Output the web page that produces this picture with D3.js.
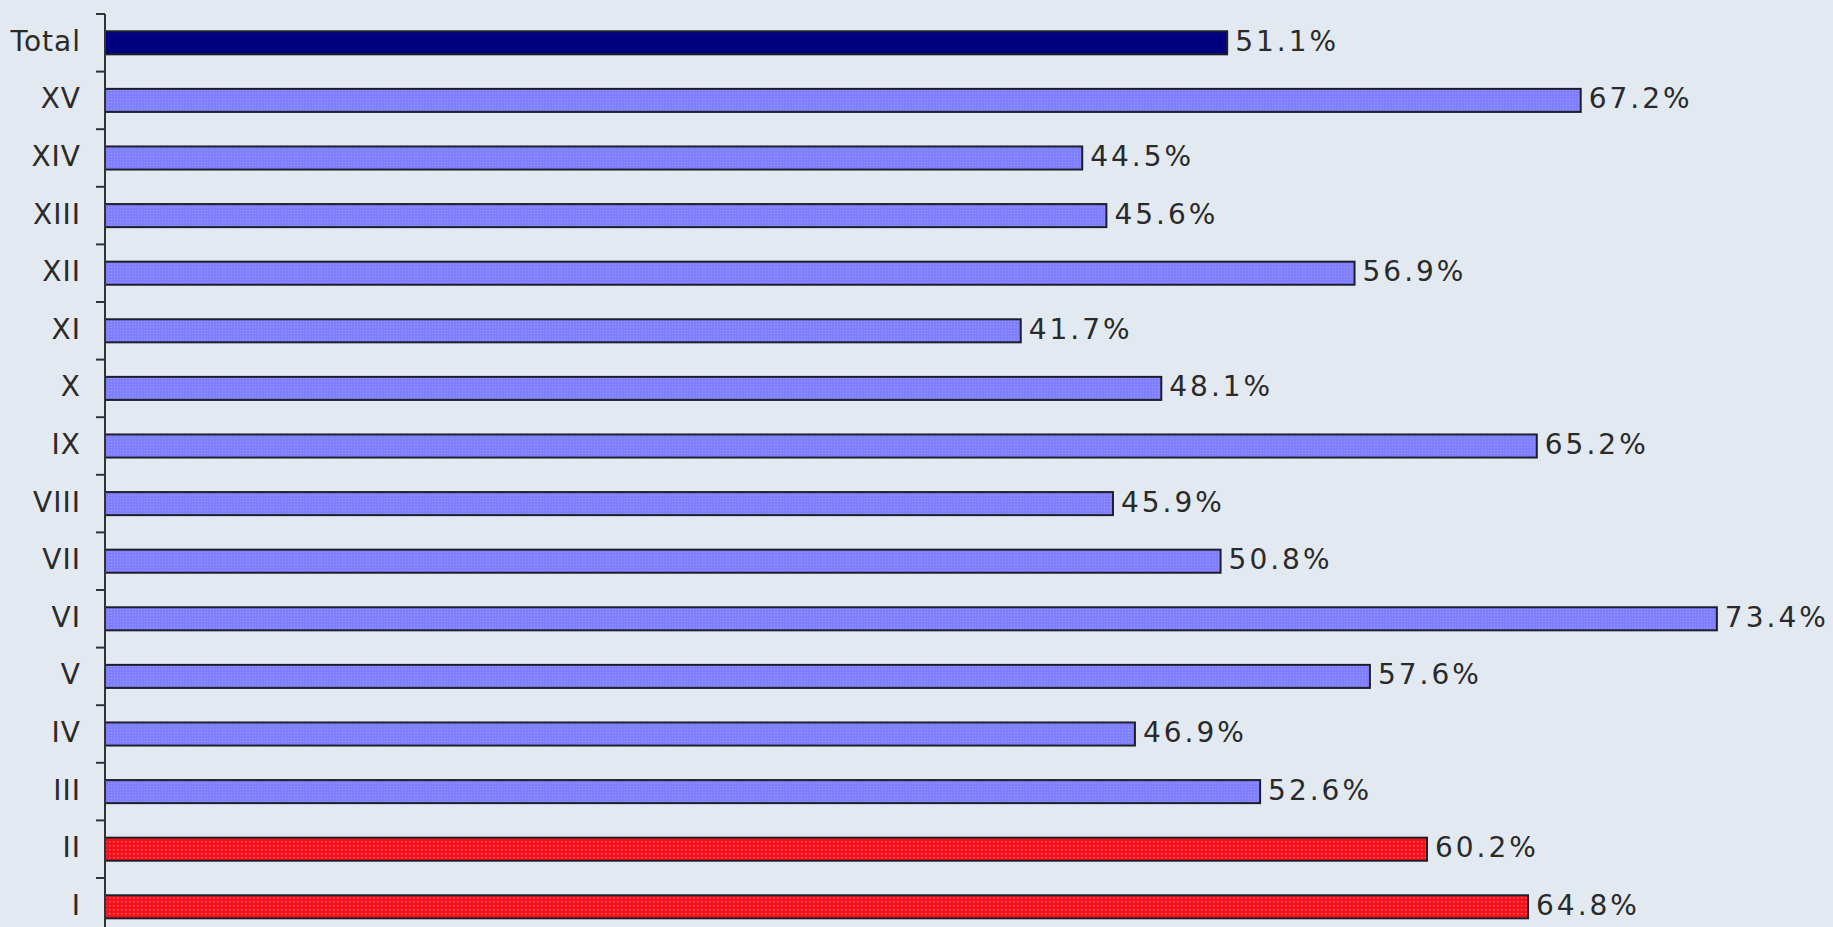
<!DOCTYPE html>
<html>
<head>
<meta charset="utf-8">
<script src="https://cdn.jsdelivr.net/npm/d3@7"></script>
<style>
  html, body { margin: 0; padding: 0; background: #e2e9f0; overflow: hidden; }
  svg { display: block; }
</style>
</head>
<body>
<svg id="chart"></svg>
<script>
// categories top to bottom
const categories = ["Total", "XV", "XIV", "XIII", "XII", "XI", "X", "IX", "VIII", "VII", "VI", "V", "IV", "III", "II", "I"];
const values = [51.1, 67.2, 44.5, 45.6, 56.9, 41.7, 48.1, 65.2, 45.9, 50.8, 73.4, 57.6, 46.9, 52.6, 60.2, 64.8];
const groups = ["total", "blue", "blue", "blue", "blue", "blue", "blue", "blue", "blue", "blue", "blue", "blue", "blue", "blue", "red", "red"];

document.addEventListener("DOMContentLoaded", () => {
    const width = 1833, height = 927;

    const svg = d3.select("#chart")
        .attr("width", width)
        .attr("height", height);

    // patterns for the dotted fills
    const defs = svg.append("defs");
    const pBlue = defs.append("pattern")
        .attr("id", "pat-blue")
        .attr("width", 3).attr("height", 3)
        .attr("patternUnits", "userSpaceOnUse");
    pBlue.append("rect").attr("width", 3).attr("height", 3).attr("fill", "#8080ff");
    pBlue.append("rect").attr("width", 1).attr("height", 1).attr("fill", "#9a9aff");

    const pRed = defs.append("pattern")
        .attr("id", "pat-red")
        .attr("width", 4).attr("height", 4)
        .attr("patternUnits", "userSpaceOnUse");
    pRed.append("rect").attr("width", 4).attr("height", 4).attr("fill", "#ff1010");
    pRed.append("rect").attr("x", 1).attr("y", 1).attr("width", 1.5).attr("height", 1.5).attr("fill", "#b070e0");

    const fills = { total: "#000080", blue: "url(#pat-blue)", red: "url(#pat-red)" };

    const data = categories.map((c, i) => ({ cat: c, value: values[i], group: groups[i] }));

    const x = d3.scaleLinear()
        .domain([0, 80])
        .range([105, 105 + 80 * 21.96]);

    const y = d3.scaleBand()
        .domain(categories)
        .range([14, 14 + 16 * 57.6])
        .paddingInner(0.6)
        .paddingOuter(0.3);

    const slotGap = (y.step() - y.bandwidth()) / 2;

    // bars
    svg.selectAll("rect.bar")
        .data(data)
        .enter()
        .append("rect")
        .attr("class", "bar")
        .attr("x", x(0))
        .attr("y", d => y(d.cat))
        .attr("width", d => x(d.value) - x(0))
        .attr("height", y.bandwidth())
        .attr("fill", d => fills[d.group])
        .attr("stroke", "#1e1e2a")
        .attr("stroke-width", 2);

    // value labels
    svg.selectAll("text.val")
        .data(data)
        .enter()
        .append("text")
        .attr("class", "val")
        .attr("x", d => x(d.value) + 8)
        .attr("y", d => y(d.cat) + y.bandwidth() / 2 + 8)
        .style("font-family", "'DejaVu Sans', Verdana, sans-serif")
        .style("font-size", "28px")
        .style("letter-spacing", "3px")
        .style("fill", "#2a2a2a")
        .text(d => d.value.toFixed(1) + "%");

    // category labels
    svg.selectAll("text.cat")
        .data(data)
        .enter()
        .append("text")
        .attr("class", "cat")
        .attr("x", 81)
        .attr("y", d => y(d.cat) + y.bandwidth() / 2 + 8)
        .attr("text-anchor", "end")
        .style("font-family", "'DejaVu Sans', Verdana, sans-serif")
        .style("font-size", "28px")
        .style("letter-spacing", "1px")
        .style("fill", "#2a2a2a")
        .text(d => d.cat);

    // axis line and ticks at band boundaries
    const tickYs = categories.map(c => y(c) - slotGap).concat([y(categories[categories.length - 1]) + y.bandwidth() + slotGap]);

    svg.append("line")
        .attr("x1", x(0)).attr("x2", x(0))
        .attr("y1", tickYs[0]).attr("y2", height)
        .attr("stroke", "#333")
        .attr("stroke-width", 2);

    svg.selectAll("line.tick")
        .data(tickYs)
        .enter()
        .append("line")
        .attr("class", "tick")
        .attr("x1", x(0) - 9).attr("x2", x(0))
        .attr("y1", d => d).attr("y2", d => d)
        .attr("stroke", "#333")
        .attr("stroke-width", 2);
});
</script>
</body>
</html>
